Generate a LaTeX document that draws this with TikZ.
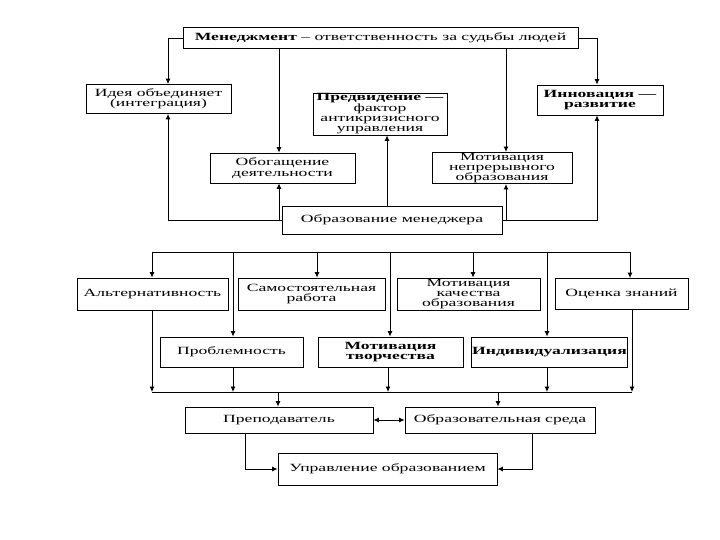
\documentclass[tikz,border=0pt]{standalone}
\usepackage{fontspec}
\setmainfont[FakeStretch=1.6]{Liberation Serif}
\usetikzlibrary{arrows.meta}
\begin{document}
\begin{tikzpicture}[x=1pt,y=-1pt,
  box/.style={draw, line width=0.8pt, inner sep=0.5pt, align=center,
    font=\fontsize{11}{10.3}\selectfont},
  arr/.style={-{Latex[length=5.5pt,width=5pt]}, line width=0.9pt},
  darr/.style={{Latex[length=5.5pt,width=5pt]}-{Latex[length=5.5pt,width=5pt]}, line width=0.9pt},
  ln/.style={line width=0.9pt}]
\useasboundingbox[fill=white] (0,0) rectangle (720,540);

% upper part
\node[box, minimum width=395pt, minimum height=21pt] (top) at (380.5,38) {\textbf{Менеджмент} – ответственность за судьбы людей};
\node[box, minimum width=145pt, minimum height=29pt] (idea) at (158.5,99) {Идея объединяет\\(интеграция)};
\node[box, minimum width=134pt, minimum height=42pt] (predv) at (380,114) {\textbf{Предвидение —}\\фактор\\антикризисного\\управления};
\node[box, minimum width=126pt, minimum height=30pt] (innov) at (600,100) {\textbf{Инновация —}\\\textbf{развитие}};
\node[box, minimum width=145pt, minimum height=30pt] (obog) at (282.5,168) {Обогащение\\деятельности};
\node[box, minimum width=140pt, minimum height=30pt] (mn) at (502,168) {Мотивация\\непрерывного\\образования};
\node[box, minimum width=220pt, minimum height=28pt] (om) at (392,220) {Образование менеджера};

\coordinate (xL) at (168,0);
\coordinate (xR) at (597,0);
\coordinate (xA) at (279,0);
\coordinate (xB) at (506,0);
\coordinate (xP) at (387,0);

\draw[arr] (top.west) -| (idea.north -| xL);
\draw[arr] (top.east) -| (innov.north -| xR);
\draw[arr] (top.south -| xA) -- (obog.north -| xA);
\draw[arr] (top.south -| xB) -- (mn.north -| xB);
\draw[arr] (om.west) -| (idea.south -| xL);
\draw[arr] (om.east) -| (innov.south -| xR);
\draw[arr] (om.west -| xA) -- (obog.south -| xA);
\draw[arr] (om.east -| xB) -- (mn.south -| xB);
\draw[arr] (om.north -| xP) -- (predv.south -| xP);

% middle part
\node[box, minimum width=151pt, minimum height=32pt] (alt) at (152.5,294) {Альтернативность};
\node[box, minimum width=147pt, minimum height=32pt] (samost) at (311.5,294) {Самостоятельная\\работа};
\node[box, minimum width=143pt, minimum height=32pt] (mk) at (468.5,294) {Мотивация\\качества\\образования};
\node[box, minimum width=133pt, minimum height=31pt] (ocenka) at (621.5,294) {Оценка знаний};
\node[box, minimum width=143pt, minimum height=30pt] (probl) at (231.5,352) {Проблемность};
\node[box, minimum width=145pt, minimum height=30pt] (tvor) at (390.5,352) {\textbf{Мотивация}\\\textbf{творчества}};
\node[box, minimum width=155pt, minimum height=30pt] (indiv) at (549.5,352) {\textbf{Индивидуализация}};

\coordinate (b1L) at (152,252);
\coordinate (b1R) at (630,252);
\coordinate (b1a) at (317,252);
\coordinate (b1b) at (473,252);
\coordinate (b1c) at (233,252);
\coordinate (b1d) at (390,252);
\coordinate (b1e) at (547,252);
\draw[ln] (b1L) -- (b1R);
\draw[arr] (b1L) -- (alt.north -| b1L);
\draw[arr] (b1a) -- (samost.north -| b1a);
\draw[arr] (b1b) -- (mk.north -| b1b);
\draw[arr] (b1R) -- (ocenka.north -| b1R);
\draw[arr] (b1c) -- (probl.north -| b1c);
\draw[arr] (b1d) -- (tvor.north -| b1d);
\draw[arr] (b1e) -- (indiv.north -| b1e);

\coordinate (b2L) at (152,392);
\coordinate (b2R) at (632,392);
\coordinate (b2c) at (233,392);
\coordinate (b2d) at (388,392);
\coordinate (b2e) at (547,392);
\coordinate (b2p) at (278,392);
\coordinate (b2s) at (498,392);
\draw[ln] (b2L) -- (b2R);
\draw[arr] (alt.south -| b2L) -- (b2L);
\draw[arr] (ocenka.south -| b2R) -- (b2R);
\draw[arr] (probl.south -| b2c) -- (b2c);
\draw[arr] (tvor.south -| b2d) -- (b2d);
\draw[arr] (indiv.south -| b2e) -- (b2e);

% lower part
\node[box, minimum width=188pt, minimum height=26pt] (prepod) at (279,420) {Преподаватель};
\node[box, minimum width=190pt, minimum height=26pt] (sreda) at (500,420) {Образовательная среда};
\node[box, minimum width=219pt, minimum height=32pt] (uprav) at (387.5,469) {Управление образованием};

\draw[arr] (b2p) -- (prepod.north -| b2p);
\draw[arr] (b2s) -- (sreda.north -| b2s);
\draw[darr] (prepod.east) -- (sreda.west);

\coordinate (xq) at (245,0);
\coordinate (xs) at (532,0);
\draw[arr] (prepod.south -| xq) |- (uprav.west);
\draw[arr] (sreda.south -| xs) |- (uprav.east);
\end{tikzpicture}
\end{document}
